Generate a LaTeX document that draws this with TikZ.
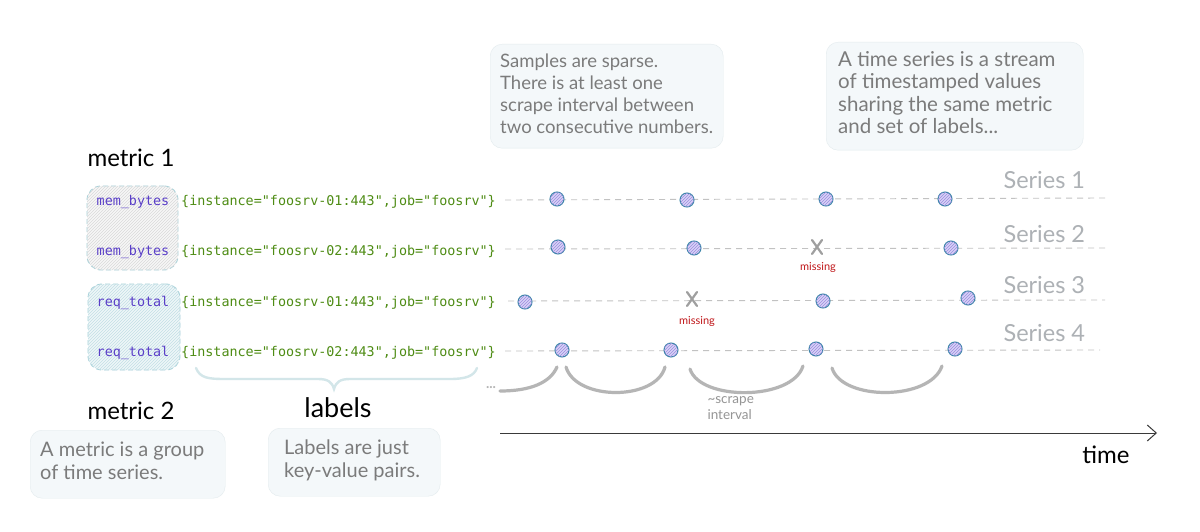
\documentclass[tikz,border=0pt]{standalone}
\usepackage{fontspec}
\usetikzlibrary{patterns,arrows.meta,calc}
\newfontfamily\hand{Lato}
\newfontfamily\code{DejaVu Sans Mono}
\definecolor{notegray}{HTML}{7B7B7B}
\definecolor{seriesgray}{HTML}{ADB1B5}
\definecolor{dashgray}{HTML}{C2C2C2}
\definecolor{metricc}{HTML}{5A3FC8}
\definecolor{labelc}{HTML}{4E8C14}
\definecolor{notefill}{HTML}{F4F8FA}
\definecolor{noteborder}{HTML}{E3EBEE}
\definecolor{dotdraw}{HTML}{3A86A8}
\definecolor{dotfill}{HTML}{D8D2F7}
\definecolor{boxteal}{HTML}{A9D2DA}
\definecolor{missingred}{HTML}{C0181B}
\definecolor{bracec}{HTML}{D3E6E9}
\definecolor{arcgray}{HTML}{B5B5B5}
\definecolor{axisc}{HTML}{3A3A3A}
\tikzset{
  notebox/.style={draw=noteborder, fill=notefill, rounded corners=12, anchor=north west, inner sep=0},
  notetext/.style={align=left, text=notegray, inner sep=0, anchor=north west},
  heading/.style={font=\hand\fontsize{24}{26}\selectfont, text=black},
  metricbox/.style={draw=boxteal, dash pattern=on 5pt off 3pt, rounded corners=14, line width=0.9},
  metricname/.style={font=\code\fontsize{13.4}{15}\selectfont, text=metricc, inner sep=0},
  lbl/.style={font=\code\fontsize{13.4}{15}\selectfont, text=labelc, inner sep=0, anchor=west},
  serieslink/.style={draw=dashgray, dash pattern=on 6pt off 5pt, line width=0.9},
  sample/.style={circle, minimum size=14, inner sep=0, draw=dotdraw, line width=1,
    fill=dotfill, postaction={pattern=north east lines, pattern color=metricc!60}},
  seriesname/.style={font=\hand\fontsize{23.5}{26}\selectfont, text=seriesgray, anchor=west},
  missmark/.style={draw=gray!75, line width=2.2, line cap=round},
  misslabel/.style={font=\hand\fontsize{11}{12}\selectfont, text=missingred},
  interval/.style={draw=arcgray, line width=3.2, line cap=round},
}
\begin{document}
\begin{tikzpicture}[x=1pt,y=-1pt]
\useasboundingbox (0,0) rectangle (1200,532);
\fill[white] (0,0) rectangle (1200,532);

% callout notes
\node[notebox, minimum width=233, minimum height=104] (n1) at (490,44) {};
\node[notetext, font=\hand\fontsize{18.5}{22}\selectfont] (n1t) at (500,54)
  {Samples are sparse.\\There is at least one\\scrape interval between\\two consecutive numbers.};
\node[notebox, minimum width=257, minimum height=108] (n2) at (826,42) {};
\node[notetext, font=\hand\fontsize{20.5}{22.5}\selectfont] (n2t) at (838,51)
  {A time series is a stream\\of timestamped values\\sharing the same metric\\and set of labels...};
\node[notebox, minimum width=195, minimum height=68] (n3) at (30,430) {};
\node[notetext, font=\hand\fontsize{20}{23}\selectfont] (n3t) at (40,442)
  {A metric is a group\\of time series.};
\node[notebox, minimum width=172, minimum height=68] (n4) at (268,428) {};
\node[notetext, font=\hand\fontsize{20}{23}\selectfont] (n4t) at (284,440)
  {Labels are just\\key-value pairs.};

% headings
\node[heading] (h1) at (131,158) {metric 1};
\node[heading] (h2) at (131,411) {metric 2};
\node[heading, font=\hand\fontsize{27}{29}\selectfont] (h3) at (338,408) {labels};

% metric boxes
\node[metricbox, minimum width=91, minimum height=84,
  fill=gray!6, postaction={pattern=north east lines, pattern color=gray!30}] (mb1) at (132.5,228) {};
\node[metricbox, minimum width=92, minimum height=86,
  fill=boxteal!20, postaction={pattern=north east lines, pattern color=boxteal!70}] (mb2) at (134,327) {};

\node[metricname] (k1) at (133,202) {mem\_bytes};
\node[metricname] (k2) at (133,252) {mem\_bytes};
\node[metricname] (k3) at (133,303) {req\_total};
\node[metricname] (k4) at (133,353) {req\_total};

\node[lbl] (l1) at (181,202) {\{instance="foosrv-01:443",job="foosrv"\}};
\node[lbl] (l2) at (181,252) {\{instance="foosrv-02:443",job="foosrv"\}};
\node[lbl] (l3) at (181,303) {\{instance="foosrv-01:443",job="foosrv"\}};
\node[lbl] (l4) at (181,353) {\{instance="foosrv-02:443",job="foosrv"\}};

% series lines
\coordinate (s1) at (505,200); \coordinate (e1) at (1105,198);
\coordinate (s2) at (505,249); \coordinate (e2) at (1105,248);
\coordinate (s3) at (508,301); \coordinate (e3) at (1105,300);
\coordinate (s4) at (505,351); \coordinate (e4) at (1100,350);
\draw[serieslink] (s1) -- (e1);
\draw[serieslink] (s2) -- (e2);
\draw[serieslink] (s3) -- (e3);
\draw[serieslink] (s4) -- (e4);

\node[seriesname] (sn1) at (1000,180) {Series 1};
\node[seriesname] (sn2) at (1000,234) {Series 2};
\node[seriesname] (sn3) at (1000,285) {Series 3};
\node[seriesname] (sn4) at (1000,333) {Series 4};

% samples
\node[sample] (a1) at (557,199) {};
\node[sample] (a2) at (687,200) {};
\node[sample] (a3) at (826,199) {};
\node[sample] (a4) at (945,199) {};
\node[sample] (b1) at (558,247) {};
\node[sample] (b2) at (694,248) {};
\node[sample] (b4) at (951,248) {};
\node[sample] (c1) at (525,302) {};
\node[sample] (c3) at (823,301) {};
\node[sample] (c4) at (968,298) {};
\node[sample] (d1) at (562,350) {};
\node[sample] (d2) at (671,350) {};
\node[sample] (d3) at (816,349) {};
\node[sample] (d4) at (955,349) {};

% missing marks
\coordinate (mx2) at (817,247);
\coordinate (mx3) at (692,299);
\draw[missmark] ($(mx2)+(-5,-7)$) -- ($(mx2)+(5,7)$) ($(mx2)+(5,-7)$) -- ($(mx2)+(-5,7)$);
\draw[missmark] ($(mx3)+(-5,-7)$) -- ($(mx3)+(5,7)$) ($(mx3)+(5,-7)$) -- ($(mx3)+(-5,7)$);
\node[misslabel] (ml2) at (818,267) {missing};
\node[misslabel] (ml3) at (697,321) {missing};

% labels brace
\coordinate (br0) at (196,368);
\coordinate (br1) at (477,368);
\coordinate (brt) at (334,389);
\draw[draw=bracec, line width=2.4, line cap=round]
  (br0) .. controls (200,378) and (208,379) .. (225,379) -- (318,379)
  .. controls (328,379) and (332,382) .. (brt)
  .. controls (336,382) and (340,379) .. (350,379) -- (450,379)
  .. controls (466,379) and (474,376) .. (br1);

% scrape intervals
\node[font=\hand\bfseries\fontsize{14}{14}\selectfont, text=arcgray] (dots) at (491,388) {...};
\draw[interval] (500,391) .. controls (530,391) and (550,383) .. ($(d1)+(-5,17)$);
\draw[interval] ($(d1)+(4,17)$) .. controls (576,401) and (656,401) .. ($(d2)+(-6,17)$);
\draw[interval] ($(d2)+(19,19)$) .. controls (700,401) and (792,401) .. ($(d3)+(-13,17)$);
\draw[interval] ($(d3)+(16,19)$) .. controls (842,401) and (930,401) .. ($(d4)+(-13,17)$);
\node[font=\hand\fontsize{13.5}{16}\selectfont, text=notegray!80, align=left, anchor=north west]
  (si) at (704,393) {\textasciitilde scrape\\interval};

% time axis
\coordinate (t0) at (500,433);
\coordinate (t1) at (1157,433);
\draw[draw=axisc, line width=1, -{Straight Barb[length=9,width=16]}] (t0) -- (t1);
\node[heading] (tl) at (1106,455) {time};
\end{tikzpicture}
\end{document}
